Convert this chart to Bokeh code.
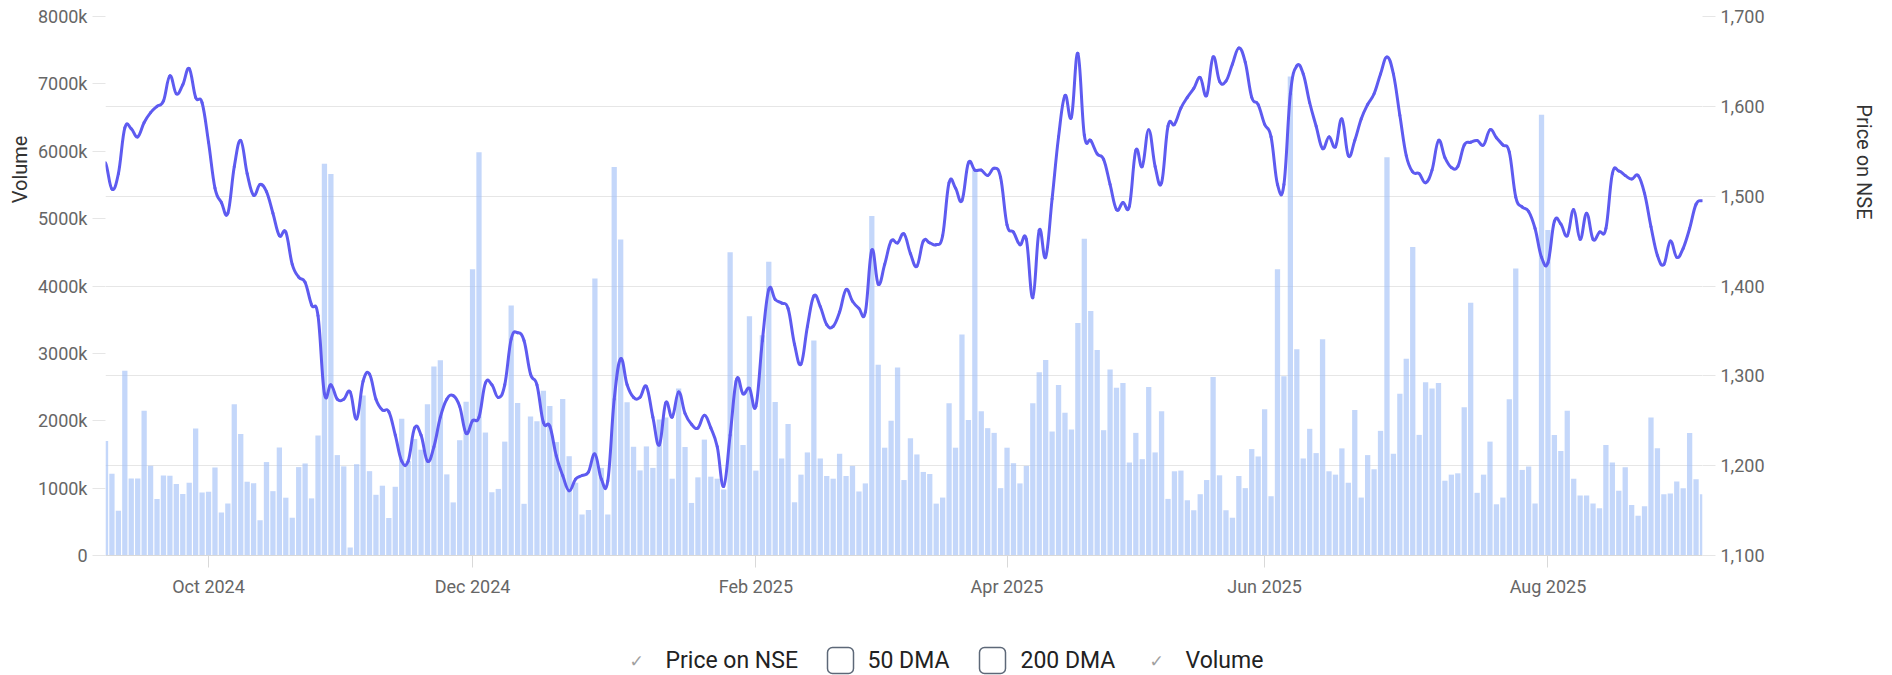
import numpy as np
import pandas as pd
from bokeh.plotting import figure
from bokeh.models import (Range1d, LinearAxis, FixedTicker, NumeralTickFormatter,
                          PrintfTickFormatter, Grid)
from bokeh.layouts import column
from bokeh.embed import file_html
from bokeh.resources import INLINE
from bokeh.core.properties import value

# ---------------- data ----------------
first_day = "2024-09-09"
last_day = "2025-09-08"
nse_holidays = ["2024-10-02", "2024-11-15", "2024-11-20", "2024-12-25", "2025-02-26",
                "2025-03-14", "2025-03-31", "2025-04-10", "2025-04-14", "2025-04-18",
                "2025-05-01", "2025-08-15", "2025-08-27"]
special_sessions = ["2025-02-01"]

tick_months = ["2024-10", "2024-12", "2025-02", "2025-04", "2025-06", "2025-08"]
tick_labels = ["Oct 2024", "Dec 2024", "Feb 2025", "Apr 2025", "Jun 2025", "Aug 2025"]

# daily volume, thousands of shares
volume_k = [
    1700, 1215, 664, 2742, 1144, 1144, 2148, 1333, 837, 1188, 1182, 1063, 912, 1080, 1884, 934,
    945, 1306, 637, 772, 2246, 1803, 1096, 1074, 524, 1387, 955, 1603, 858, 561, 1312, 1366,
    848, 1781, 5814, 5663, 1490, 1323,
    119, 1355, 2375, 1252, 901, 1036, 556, 1020, 2030, 1400, 1730, 1570, 2246, 2807, 2899,
    1204, 788, 1711, 2283,
    4248, 5987, 1825, 939, 988, 1690, 3709, 2262, 767, 2062, 1992, 2445, 2219, 1684, 2321,
    1474, 1080, 610, 675, 4113, 1300,
    610, 5765, 4691, 2273, 1614, 1263, 1619, 1300, 2020, 2050, 1140, 2480, 1610, 780, 1160,
    1720, 1170, 1140, 980, 4500, 2600, 1640, 3550,
    1260, 3270, 4360, 2280, 1440, 1950, 790, 1200, 1530, 3190, 1440, 1180, 1140, 1510, 1180,
    1330, 950, 1070, 5040, 2830,
    1600, 2000, 2790, 1120, 1740, 1500, 1240, 1210, 770, 860, 2260, 1600, 3280, 2010, 5720,
    2140, 1890, 1820, 1000,
    1600, 1370, 1070, 1330, 2260, 2720, 2900, 1840, 2530, 2120, 1870, 3450, 4700, 3630, 3050,
    1860, 2760, 2490, 2560,
    1380, 1820, 1430, 2500, 1530, 2140, 840, 1250, 1260, 820, 670, 910, 1120, 2650, 1190,
    670, 560, 1180, 1000, 1580, 1470,
    2170, 880, 4250, 2660, 7110, 3060, 1440, 1880, 1520, 3210, 1250, 1200, 1590, 1080, 2160,
    860, 1490, 1280, 1850, 5910, 1510,
    2400, 2920, 4580, 1790, 2570, 2480, 2560, 1110, 1200, 1220, 2200, 3750, 930, 1200, 1690,
    760, 860, 2320, 4260, 1270, 1320, 770, 6540,
    4830, 1790, 1550, 2150, 1140, 890, 890, 770, 700, 1640, 1380, 960, 1310, 750, 590, 730,
    2050, 1590, 910,
    920, 1100, 1000, 1820, 1130, 910,
]

# closing price on NSE
price = [
    1537, 1508, 1525, 1576, 1575, 1566, 1582, 1593, 1600, 1606, 1634, 1614, 1624, 1642, 1610, 1604,
    1560, 1509, 1493, 1481, 1533, 1562, 1525, 1501, 1513, 1505, 1481, 1456, 1460, 1424, 1410, 1404,
    1379, 1367, 1280, 1290, 1274, 1274,
    1282, 1252, 1294, 1302, 1274, 1262, 1260, 1234, 1205, 1205, 1242, 1234, 1205, 1221, 1254,
    1274, 1278, 1266, 1236,
    1250, 1254, 1292, 1290, 1276, 1290, 1341, 1348, 1339, 1302, 1290, 1248, 1244, 1211, 1189,
    1172, 1185, 1189, 1193, 1213, 1185,
    1183, 1274, 1319, 1290, 1276, 1276, 1288, 1254, 1223, 1270, 1254, 1282, 1258, 1246, 1242,
    1256, 1242, 1221, 1177, 1234, 1296, 1280, 1286,
    1266, 1339, 1396, 1385, 1381, 1375, 1335, 1313, 1355, 1389, 1377, 1357, 1355, 1371, 1396,
    1383, 1375, 1371, 1440, 1402,
    1424, 1450, 1448, 1458, 1436, 1422, 1450, 1448, 1446, 1456, 1515, 1509, 1495, 1537, 1529,
    1529, 1523, 1531, 1521,
    1468, 1460, 1446, 1452, 1387, 1462, 1432, 1497, 1566, 1612, 1588, 1659, 1568, 1562, 1547,
    1541, 1513, 1485, 1493,
    1489, 1551, 1533, 1574, 1533, 1515, 1578, 1580, 1598, 1610, 1620, 1632, 1612, 1655, 1628,
    1628, 1647, 1665, 1649, 1610, 1602,
    1580, 1566, 1513, 1513, 1614, 1645, 1636, 1604, 1578, 1553, 1566, 1555, 1586, 1545, 1562,
    1586, 1602, 1614, 1636, 1655, 1636,
    1590, 1545, 1527, 1525, 1515, 1529, 1562, 1543, 1532, 1533, 1557, 1560, 1562, 1557, 1574,
    1565, 1557, 1549, 1499, 1488, 1483, 1464, 1432,
    1426, 1472, 1469, 1456, 1485, 1452, 1481, 1452, 1460, 1464, 1525, 1528, 1523, 1519, 1523,
    1503, 1466, 1434, 1424,
    1450, 1432, 1442, 1464, 1491, 1495,
]

volume_ticks = [0, 1000, 2000, 3000, 4000, 5000, 6000, 7000, 8000]
price_ticks = [1100, 1200, 1300, 1400, 1500, 1600, 1700]

legend_labels = ["Price on NSE", "50 DMA", "200 DMA", "Volume"]
legend_on = [True, False, False, True]

# ---------------- trading-day axis ----------------
days = pd.bdate_range(first_day, last_day)
days = days[~days.isin(pd.to_datetime(nse_holidays))]
days = days.union(pd.to_datetime(special_sessions))
n = min(len(days), len(volume_k), len(price))
idx = np.arange(1, n + 1, dtype=float)
months = days.strftime("%Y-%m")
tick_idx = [int(np.argmax(months == m)) + 1 for m in tick_months]

BAR = "#9fbff7"
LINE = "#5e5bf0"
GRID = "#e6e6e6"
TICK_TXT = "#666666"
TITLE_TXT = "#333333"
NBSP = "\u00a0"

W = 1884
FL, FR, FT, FB = 105, 1702, 16, 555      # frame edges on the page
H1 = 600

p = figure(width=W, height=H1, x_range=Range1d(1, n), y_range=Range1d(0, 8000),
           output_backend="svg", toolbar_location=None,
           min_border_left=FL, min_border_right=W - FR, min_border_top=FT,
           min_border_bottom=H1 - FB)
p.outline_line_color = None
p.xgrid.visible = False
p.ygrid.visible = False
p.extra_y_ranges = {"price": Range1d(1100, 1700)}

grid = Grid(dimension=1, ticker=FixedTicker(ticks=price_ticks), y_range_name="price",
            grid_line_color=GRID, grid_line_width=1)
p.add_layout(grid)

p.vbar(x=idx, top=volume_k[:n], width=0.82, bottom=0, fill_color=BAR, fill_alpha=0.62,
       line_color=None)

# smooth (spline-like) price curve through the daily points
py = np.asarray(price[:n], dtype=float)
prev_y = np.concatenate([[py[0]], py[:-1]])
next_y = np.concatenate([py[1:], [py[-1]]])
slope = (next_y - prev_y) / 2.0
k = 0.4
p.bezier(x0=idx[:-1], y0=py[:-1], x1=idx[1:], y1=py[1:],
         cx0=idx[:-1] + k, cy0=py[:-1] + k * slope[:-1],
         cx1=idx[1:] - k, cy1=py[1:] - k * slope[1:],
         y_range_name="price", line_color=LINE, line_width=3, line_cap="round")

# x axis
xa = p.xaxis[0]
xa.ticker = FixedTicker(ticks=tick_idx)
xa.major_label_overrides = {i: l for i, l in zip(tick_idx, tick_labels)}
xa.axis_line_color = "#d9d9d9"
xa.major_tick_line_color = "#d9d9d9"
xa.major_tick_out = 12
xa.major_tick_in = 0
xa.minor_tick_line_color = None
xa.major_label_standoff = 8
xa.major_label_text_font = "Roboto"
xa.major_label_text_font_size = "18px"
xa.major_label_text_color = TICK_TXT


def style_value_axis(ax, title, standoff):
    ax.axis_line_color = None
    ax.major_tick_line_color = GRID
    ax.major_tick_out = 13
    ax.major_tick_in = 0
    ax.minor_tick_line_color = None
    ax.major_label_standoff = 5
    ax.major_label_text_font = "Roboto"
    ax.major_label_text_font_size = "18px"
    ax.major_label_text_color = TICK_TXT
    ax.axis_label = title
    ax.axis_label_standoff = standoff
    ax.axis_label_text_font = "Roboto"
    ax.axis_label_text_font_style = "normal"
    ax.axis_label_text_font_size = "20px"
    ax.axis_label_text_color = TITLE_TXT


# left (volume) axis; title sits in the upper part of the axis (padding shifts it up)
ya = p.yaxis[0]
ya.ticker = FixedTicker(ticks=volume_ticks)
ya.formatter = PrintfTickFormatter(format="%dk")
ya.major_label_overrides = {0: "0"}
style_value_axis(ya, NBSP * 47 + "Volume", 3)

# right (price) axis
ra = LinearAxis(y_range_name="price", ticker=FixedTicker(ticks=price_ticks),
                formatter=NumeralTickFormatter(format="0,0"))
style_value_axis(ra, "Price on NSE" + NBSP * 50, 84)
p.add_layout(ra, "right")

# ---------------- legend strip (page coordinates) ----------------
H2 = 75
lg = figure(width=W, height=H2, x_range=Range1d(FL, FR), y_range=Range1d(H1 + H2, H1),
            output_backend="svg", toolbar_location=None, min_border=0,
            min_border_left=FL, min_border_right=W - FR,
            x_axis_location=None, y_axis_location=None)
lg.outline_line_color = None
lg.grid.visible = False
ly = 660
marker_x = [636, 840, 992, 1156]
text_x = [665, 867, 1020, 1185]
for lab, on, mx, tx in zip(legend_labels, legend_on, marker_x, text_x):
    if on:
        lg.text(x=[mx], y=[ly], text=["\u2713"], text_font=value("DejaVu Sans"),
                text_font_size="17px", text_color="#a0a0a0", text_align="center",
                text_baseline="middle")
    else:
        lg.quad(left=[mx - 13], right=[mx + 13], bottom=[ly + 13], top=[ly - 13],
                fill_color="white", line_color="#5d6878", line_width=1.5, border_radius=5)
    lg.text(x=[tx], y=[ly], text=[lab], text_font=value("Roboto"), text_font_size="23px",
            text_color="#222222", text_align="left", text_baseline="middle")

layout = column(p, lg, spacing=0)
open("out.html", "w").write(file_html(layout, INLINE))
